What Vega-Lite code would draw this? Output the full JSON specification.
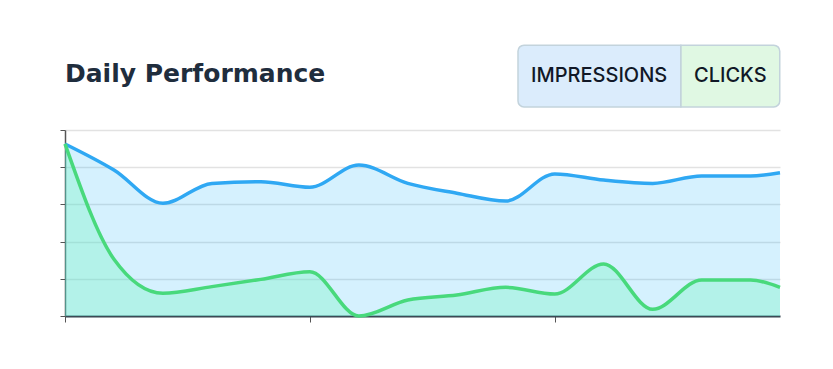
{
  "$schema": "https://vega.github.io/schema/vega-lite/v6.json",
  "width": 715,
  "height": 186,
  "autosize": {"type": "none"},
  "padding": {"left": 65, "top": 130, "right": 53, "bottom": 53},
  "background": "#ffffff",
  "title": {
    "text": "Daily Performance",
    "anchor": "start",
    "frame": "group",
    "baseline": "alphabetic",
    "offset": -62,
    "font": "DejaVu Sans",
    "fontSize": 25,
    "fontWeight": "bold",
    "color": "#1f2d3d"
  },
  "data": {
    "values": [
      {"day": 0, "series": "IMPRESSIONS", "value": 92.5},
      {"day": 1, "series": "IMPRESSIONS", "value": 78.5},
      {"day": 2, "series": "IMPRESSIONS", "value": 60.6},
      {"day": 3, "series": "IMPRESSIONS", "value": 71.3},
      {"day": 4, "series": "IMPRESSIONS", "value": 72.2},
      {"day": 5, "series": "IMPRESSIONS", "value": 69.2},
      {"day": 6, "series": "IMPRESSIONS", "value": 81.2},
      {"day": 7, "series": "IMPRESSIONS", "value": 71.3},
      {"day": 8, "series": "IMPRESSIONS", "value": 66.0},
      {"day": 9, "series": "IMPRESSIONS", "value": 61.8},
      {"day": 10, "series": "IMPRESSIONS", "value": 76.4},
      {"day": 11, "series": "IMPRESSIONS", "value": 73.1},
      {"day": 12, "series": "IMPRESSIONS", "value": 71.3},
      {"day": 13, "series": "IMPRESSIONS", "value": 75.3},
      {"day": 14, "series": "IMPRESSIONS", "value": 75.3},
      {"day": 14.6, "series": "IMPRESSIONS", "value": 77.0},
      {"day": 0, "series": "CLICKS", "value": 92.5},
      {"day": 1, "series": "CLICKS", "value": 30.5},
      {"day": 2, "series": "CLICKS", "value": 12.2},
      {"day": 3, "series": "CLICKS", "value": 15.8},
      {"day": 4, "series": "CLICKS", "value": 19.7},
      {"day": 5, "series": "CLICKS", "value": 23.8},
      {"day": 6, "series": "CLICKS", "value": 0.0},
      {"day": 7, "series": "CLICKS", "value": 8.6},
      {"day": 8, "series": "CLICKS", "value": 11.3},
      {"day": 9, "series": "CLICKS", "value": 15.4},
      {"day": 10, "series": "CLICKS", "value": 11.8},
      {"day": 11, "series": "CLICKS", "value": 28.0},
      {"day": 12, "series": "CLICKS", "value": 3.6},
      {"day": 13, "series": "CLICKS", "value": 19.4},
      {"day": 14, "series": "CLICKS", "value": 19.4},
      {"day": 14.6, "series": "CLICKS", "value": 15.4}
    ]
  },
  "encoding": {
    "x": {
      "field": "day",
      "type": "quantitative",
      "scale": {"domain": [0, 14.6], "nice": false, "zero": false},
      "axis": {
        "values": [0, 5, 10],
        "labels": false,
        "title": null,
        "grid": false,
        "domainColor": "#3b4a55",
        "domainWidth": 2,
        "tickColor": "#555555",
        "tickSize": 6,
        "tickWidth": 1
      }
    },
    "y": {
      "field": "value",
      "type": "quantitative",
      "scale": {"domain": [0, 100], "nice": false},
      "axis": {
        "values": [0, 20, 40, 60, 80, 100],
        "labels": false,
        "title": null,
        "grid": true,
        "gridColor": "#e2e2e2",
        "gridWidth": 1.5,
        "domainColor": "#555555",
        "domainWidth": 1.5,
        "tickColor": "#555555",
        "tickSize": 5,
        "tickWidth": 1
      }
    }
  },
  "layer": [
    {
      "transform": [{"filter": "datum.series === 'IMPRESSIONS'"}],
      "mark": {"type": "area", "interpolate": "monotone", "color": "#2db9fa", "opacity": 0.2}
    },
    {
      "transform": [{"filter": "datum.series === 'CLICKS'"}],
      "mark": {"type": "area", "interpolate": "monotone", "color": "#67f4b8", "opacity": 0.3}
    },
    {
      "mark": {"type": "line", "interpolate": "monotone", "strokeWidth": 3.5},
      "encoding": {
        "color": {
          "field": "series",
          "type": "nominal",
          "sort": ["IMPRESSIONS", "CLICKS"],
          "scale": {"domain": ["IMPRESSIONS", "CLICKS"], "range": ["#2fa8f3", "#48d97c"]},
          "legend": {
            "title": null,
            "orient": "none",
            "direction": "horizontal",
            "legendX": 453,
            "legendY": -85,
            "padding": 0,
            "columnPadding": -1.5,
            "clipHeight": 61,
            "symbolSize": 1,
            "symbolStrokeWidth": 0,
            "symbolOpacity": 0,
            "labelFont": "Inter",
            "labelFontSize": 20,
            "labelFontWeight": 500,
            "labelColor": "#111827",
            "labelOffset": -7,
            "encode": {
              "entries": {
                "update": {
                  "width": {"signal": "datum.index === 0 ? 162 : 98"},
                  "fill": {"signal": "datum.index === 0 ? '#dbecfc' : '#e0f8e3'"},
                  "stroke": {"value": "#c3d3dc"},
                  "strokeWidth": {"value": 1.5},
                  "cornerRadiusTopLeft": {"signal": "datum.index === 0 ? 6 : 0"},
                  "cornerRadiusBottomLeft": {"signal": "datum.index === 0 ? 6 : 0"},
                  "cornerRadiusTopRight": {"signal": "datum.index === 0 ? 0 : 6"},
                  "cornerRadiusBottomRight": {"signal": "datum.index === 0 ? 0 : 6"}
                }
              }
            }
          }
        }
      }
    }
  ],
  "config": {
    "view": {"stroke": null}
  }
}
